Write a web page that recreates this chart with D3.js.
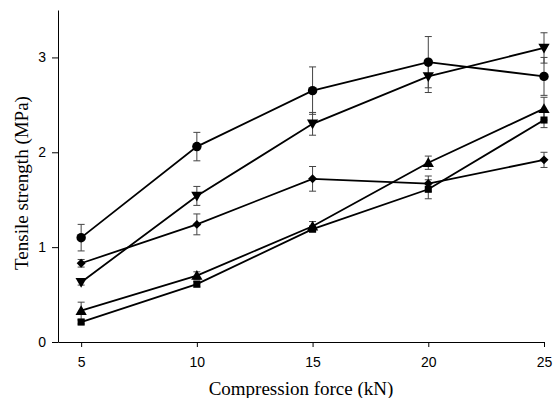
<!DOCTYPE html>
<html>
<head>
<meta charset="utf-8">
<script src="https://cdn.jsdelivr.net/npm/d3@7"></script>
<style>
  body { margin: 0; background: #fff; }
  svg { display: block; }
</style>
</head>
<body>
<script>
var width = 554
var height = 398

// compression force (kN)
var forces = [5, 10, 15, 20, 25]
var yTicks = [0, 1, 2, 3]

// tensile strength (MPa), one array per formulation
var circleVals   = [1.10, 2.06, 2.65, 2.95, 2.80]
var circleErr    = [0.14, 0.15, 0.25, 0.27, 0.20]
var invTriVals   = [0.63, 1.54, 2.30, 2.80, 3.10]
var invTriErr    = [0.03, 0.10, 0.12, 0.17, 0.16]
var diamondVals  = [0.83, 1.24, 1.72, 1.67, 1.92]
var diamondErr   = [0.04, 0.11, 0.13, 0.08, 0.08]
var triVals      = [0.33, 0.70, 1.22, 1.89, 2.46]
var triErr       = [0.09, 0.04, 0.05, 0.07, 0.12]
var squareVals   = [0.21, 0.61, 1.19, 1.61, 2.34]
var squareErr    = [0.02, 0.03, 0.03, 0.10, 0.08]

var series = [
  { vals: triVals, err: triErr, sym: d3.symbolTriangle, size: 55, rot: 0, dy: 1 },
  { vals: squareVals, err: squareErr, sym: d3.symbolSquare, size: 50, rot: 0, dy: 0 },
  { vals: diamondVals, err: diamondErr, sym: d3.symbolSquare, size: 40, rot: 45, dy: 0 },
  { vals: invTriVals, err: invTriErr, sym: d3.symbolTriangle, size: 55, rot: 180, dy: -1 },
  { vals: circleVals, err: circleErr, sym: d3.symbolCircle, size: 70, rot: 0, dy: 0 }
]

var x = d3.scaleLinear().domain([4, 25]).range([58, 544])
var y = d3.scaleLinear().domain([0, 3.5]).range([342, 10])

var svg = d3.select('body').append('svg')
    .attr('width', width)
    .attr('height', height)

var tickFont = 'Liberation Sans, Arial, sans-serif'
var titleFont = 'Liberation Serif, Times New Roman, serif'

// axes
var xAxis = svg.append('g')
    .attr('transform', `translate(0,${y(0)})`)
    .call(d3.axisBottom(x).tickValues(forces).tickSize(5).tickPadding(10).tickSizeOuter(0))
xAxis.select('.domain').attr('stroke', '#000')
xAxis.selectAll('text').style('font-family', tickFont).style('font-size', '14px').attr('fill', '#000')

var yAxis = svg.append('g')
    .attr('transform', `translate(${x(4)},0)`)
    .call(d3.axisLeft(y).tickValues(yTicks).tickFormat(d3.format('d')).tickSize(6).tickPadding(6).tickSizeOuter(0))
yAxis.select('.domain').attr('stroke', '#000')
yAxis.selectAll('text').style('font-family', tickFont).style('font-size', '14px').attr('fill', '#000')

svg.append('text')
    .attr('x', 301).attr('y', 395)
    .attr('text-anchor', 'middle')
    .style('font-family', titleFont)
    .style('font-size', '19px')
    .text('Compression force (kN)')

svg.append('text')
    .attr('transform', 'translate(28,183) rotate(-90)')
    .attr('text-anchor', 'middle')
    .style('font-family', titleFont)
    .style('font-size', '19px')
    .text('Tensile strength (MPa)')

var line = d3.line()
    .x((d, i) => x(forces[i]))
    .y(d => y(d))

// error bars
series.forEach(s => {
  var g = svg.append('g').attr('stroke', '#444').attr('stroke-width', 1)
  s.vals.forEach((v, i) => {
    var cx = x(forces[i])
    var lo = y(v - s.err[i]), hi = y(v + s.err[i])
    g.append('line').attr('x1', cx).attr('x2', cx).attr('y1', lo).attr('y2', hi)
    g.append('line').attr('x1', cx - 3.5).attr('x2', cx + 3.5).attr('y1', lo).attr('y2', lo)
    g.append('line').attr('x1', cx - 3.5).attr('x2', cx + 3.5).attr('y1', hi).attr('y2', hi)
  })
})

// lines
series.forEach(s => {
  svg.append('path')
      .datum(s.vals)
      .attr('d', line)
      .attr('fill', 'none')
      .attr('stroke', '#000')
      .attr('stroke-width', 1.8)
})

// markers
series.forEach(s => {
  var sym = d3.symbol().type(s.sym).size(s.size)
  svg.append('g').selectAll('path')
    .data(s.vals)
    .join('path')
      .attr('d', sym)
      .attr('transform', (d, i) => `translate(${x(forces[i])},${y(d) + s.dy}) rotate(${s.rot})`)
      .attr('fill', '#000')
})
</script>
</body>
</html>
